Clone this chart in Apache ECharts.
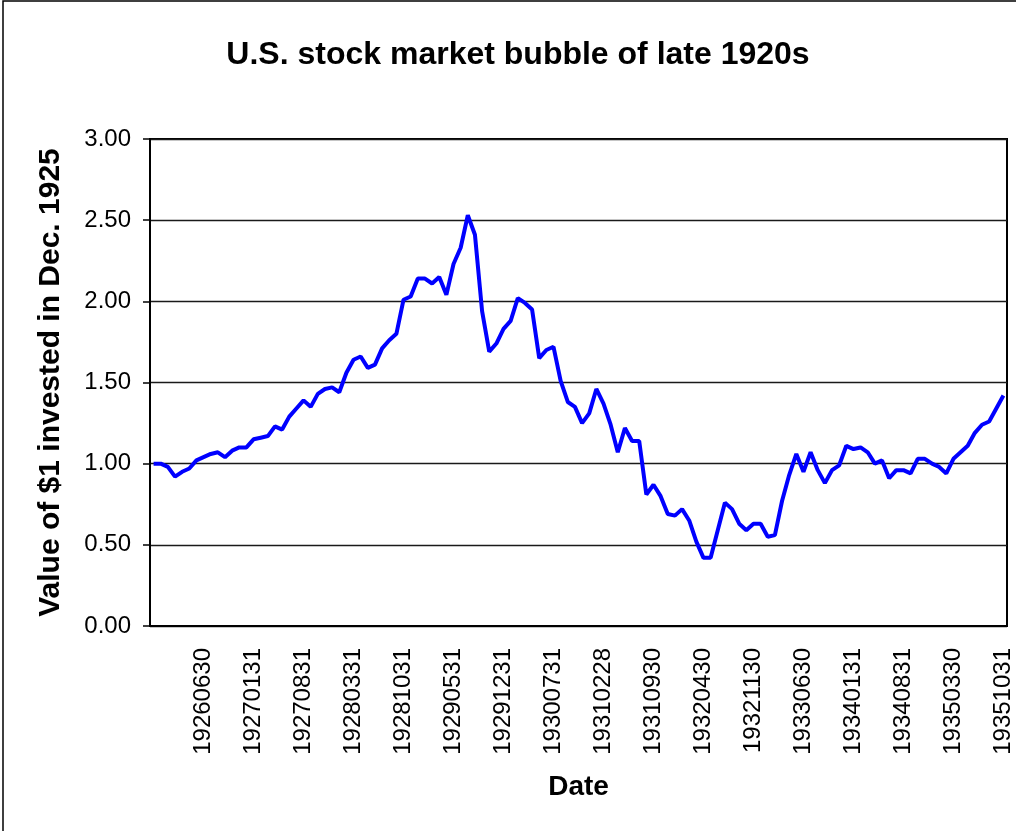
<!DOCTYPE html>
<html>
<head>
<meta charset="utf-8">
<script src="https://cdn.jsdelivr.net/npm/echarts@6/dist/echarts.min.js"></script>
<style>
html,body{margin:0;padding:0;background:#fff;}
#chart{width:1016px;height:831px;}
</style>
</head>
<body>
<div id="chart"></div>
<script>
var titleText = 'U.S. stock market bubble of late 1920s';
var yAxisTitle = 'Value of $1 invested in Dec. 1925';
var xAxisTitle = 'Date';

var categories = [
  '19251130','19251231',
  '19260131','19260227','19260331','19260430','19260529','19260630','19260731','19260831','19260930','19261030','19261130','19261231',
  '19270131','19270228','19270331','19270430','19270531','19270630','19270730','19270831','19270930','19271031','19271130','19271231',
  '19280131','19280229','19280331','19280430','19280531','19280630','19280731','19280831','19280929','19281031','19281130','19281231',
  '19290131','19290228','19290330','19290430','19290531','19290629','19290731','19290831','19290930','19291031','19291130','19291231',
  '19300131','19300228','19300331','19300430','19300531','19300630','19300731','19300830','19300930','19301031','19301129','19301231',
  '19310131','19310228','19310331','19310430','19310529','19310630','19310731','19310831','19310930','19311031','19311130','19311231',
  '19320130','19320229','19320331','19320430','19320531','19320630','19320730','19320831','19320930','19321031','19321130','19321231',
  '19330131','19330228','19330331','19330429','19330531','19330630','19330731','19330831','19330930','19331031','19331130','19331230',
  '19340131','19340228','19340331','19340430','19340531','19340630','19340731','19340831','19340929','19341031','19341130','19341231',
  '19350131','19350228','19350330','19350430','19350531','19350629','19350731','19350831','19350930','19351031'
];

var values = [
  1.00, 1.00, 0.98, 0.92, 0.95, 0.97, 1.02, 1.04, 1.06, 1.07,
  1.04, 1.08, 1.10, 1.10, 1.15, 1.16, 1.17, 1.23, 1.21, 1.29,
  1.34, 1.39, 1.35, 1.43, 1.46, 1.47, 1.44, 1.56, 1.64, 1.66,
  1.59, 1.61, 1.71, 1.76, 1.80, 2.01, 2.03, 2.14, 2.14, 2.11,
  2.15, 2.04, 2.23, 2.33, 2.53, 2.41, 1.94, 1.69, 1.74, 1.83,
  1.88, 2.02, 1.99, 1.95, 1.65, 1.70, 1.72, 1.51, 1.38, 1.35,
  1.25, 1.31, 1.46, 1.37, 1.24, 1.07, 1.22, 1.14, 1.14, 0.81,
  0.87, 0.80, 0.69, 0.68, 0.72, 0.65, 0.52, 0.42, 0.42, 0.59,
  0.76, 0.72, 0.63, 0.59, 0.63, 0.63, 0.55, 0.56, 0.77, 0.93,
  1.06, 0.95, 1.07, 0.96, 0.88, 0.96, 0.99, 1.11, 1.09, 1.10,
  1.07, 1.00, 1.02, 0.91, 0.96, 0.96, 0.94, 1.03, 1.03, 1.00,
  0.98, 0.94, 1.03, 1.07, 1.11, 1.19, 1.24, 1.26, 1.34, 1.42
];

var yMin = 0, yMax = 3, yStep = 0.5;
var labelEvery = 7;

var FONT = '"Liberation Sans", Arial, Helvetica, sans-serif';
var chart = echarts.init(document.getElementById('chart'), null, {renderer: 'canvas'});
chart.setOption({
  animation: false,
  backgroundColor: '#ffffff',
  title: {
    text: titleText,
    left: 513,
    textAlign: 'center',
    top: 34,
    textStyle: {fontFamily: FONT, fontSize: 32, fontWeight: 'bold', color: '#000'}
  },
  graphic: [{
    type: 'rect',
    shape: {x: 3, y: 1, width: 1040, height: 860},
    style: {fill: 'none', stroke: '#000', lineWidth: 1.5},
    silent: true, z: 100
  }],
  grid: {
    left: 150, top: 139, width: 857, height: 487,
    show: true, borderColor: '#000', borderWidth: 2, backgroundColor: '#fff'
  },
  xAxis: {
    type: 'category',
    data: categories,
    boundaryGap: true,
    name: xAxisTitle,
    nameLocation: 'middle',
    nameGap: 147,
    nameTextStyle: {fontFamily: FONT, fontSize: 28, fontWeight: 'bold', color: '#000'},
    axisLine: {show: true, lineStyle: {color: '#000', width: 2}},
    axisTick: {show: false},
    axisLabel: {
      rotate: 90,
      margin: 22,
      interval: function (index) { return index > 0 && index % labelEvery === 0; },
      fontFamily: FONT, fontSize: 24, color: '#000'
    },
    splitLine: {show: false}
  },
  yAxis: {
    type: 'value',
    min: yMin, max: yMax, interval: yStep,
    name: yAxisTitle,
    nameLocation: 'middle',
    nameRotate: 90,
    nameGap: 84,
    nameTextStyle: {fontFamily: FONT, fontSize: 30, fontWeight: 'bold', color: '#000'},
    axisLine: {show: true, lineStyle: {color: '#000', width: 2}},
    axisTick: {show: true, length: 7, inside: false, lineStyle: {color: '#000', width: 1.5}},
    axisLabel: {
      margin: 19,
      formatter: function (v) { return v.toFixed(2); },
      fontFamily: FONT, fontSize: 24, color: '#000'
    },
    splitLine: {show: true, lineStyle: {color: '#1a1a1a', width: 1.4}}
  },
  series: [{
    type: 'line',
    data: values,
    showSymbol: false,
    symbol: 'none',
    lineStyle: {color: '#0000ff', width: 4},
    itemStyle: {color: '#0000ff'}
  }]
});
</script>
</body>
</html>
